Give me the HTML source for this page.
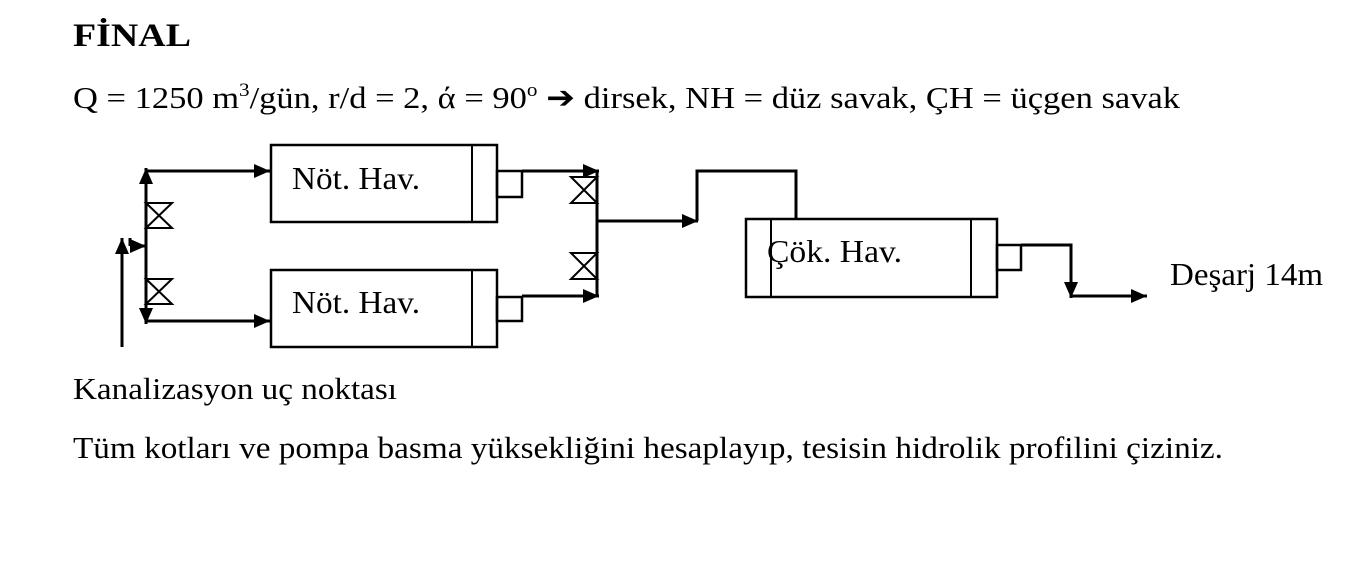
<!DOCTYPE html>
<html><head><meta charset="utf-8"><style>
html,body{margin:0;padding:0;background:#fff;}
svg{display:block;}
text{font-family:"Liberation Serif",serif;fill:#000;}
</style></head><body>
<svg width="1365" height="573" viewBox="0 0 1365 573" xmlns="http://www.w3.org/2000/svg">
<defs>
<marker id="a" markerWidth="16" markerHeight="14" refX="16" refY="7" orient="auto" markerUnits="userSpaceOnUse">
<path d="M0,0 L16,7 L0,14z" fill="#000"/>
</marker>
</defs>
<text x="73" y="46" font-size="33" font-weight="bold" textLength="118" lengthAdjust="spacingAndGlyphs">FİNAL</text>
<text x="73" y="108" font-size="31" textLength="1107" lengthAdjust="spacingAndGlyphs">Q = 1250 m<tspan font-size="19" dy="-12">3</tspan><tspan dy="12">/gün,  r/d = 2,  ά = 90</tspan><tspan font-size="19" dy="-12">o</tspan><tspan dy="12"> ➔ dirsek,  NH = düz savak,  ÇH = üçgen savak</tspan></text>

<g stroke="#000" fill="none" stroke-width="3">
<rect x="271" y="145" width="226" height="77" stroke-width="2.5"/>
<line x1="472" y1="145" x2="472" y2="222" stroke-width="2"/>
<rect x="271" y="270" width="226" height="77" stroke-width="2.5"/>
<line x1="472" y1="270" x2="472" y2="347" stroke-width="2"/>
<rect x="497" y="171" width="25" height="26" stroke-width="2.5"/>
<rect x="497" y="297" width="25" height="24" stroke-width="2.5"/>
<line x1="146" y1="172" x2="146" y2="321"/>
<line x1="146" y1="171" x2="270" y2="171" marker-end="url(#a)"/>
<line x1="146" y1="321" x2="270" y2="321" marker-end="url(#a)"/>
<line x1="122" y1="347" x2="122" y2="238" marker-end="url(#a)"/>
<line x1="130" y1="246" x2="146" y2="246" marker-end="url(#a)"/>
<line x1="130" y1="238" x2="130" y2="246"/>
<line x1="146" y1="200" x2="146" y2="168" marker-end="url(#a)"/>
<line x1="146" y1="300" x2="146" y2="324" marker-end="url(#a)"/>
<line x1="522" y1="171" x2="599" y2="171" marker-end="url(#a)"/>
<line x1="522" y1="296" x2="599" y2="296" marker-end="url(#a)"/>
<line x1="597" y1="171" x2="597" y2="296"/>
<line x1="597" y1="221" x2="698" y2="221" marker-end="url(#a)"/>
<polyline points="697,221 697,171 796,171 796,219"/>
<rect x="746" y="219" width="251" height="78" stroke-width="2.5"/>
<line x1="771" y1="219" x2="771" y2="297" stroke-width="2"/>
<line x1="971" y1="219" x2="971" y2="297" stroke-width="2"/>
<rect x="997" y="245" width="24" height="25" stroke-width="2.5"/>
<polyline points="1021,245 1071,245 1071,280"/>
<line x1="1071" y1="278" x2="1071" y2="298" marker-end="url(#a)"/>
<line x1="1071" y1="296" x2="1147" y2="296" marker-end="url(#a)"/>
</g>
<g stroke="#000" stroke-width="2" fill="none">
<path d="M146,203 L172,228 L146,228 L172,203 Z"/>
<path d="M146,279 L172,304 L146,304 L172,279 Z"/>
<path d="M571,177 L597,203 L571,203 L597,177 Z"/>
<path d="M571,253 L597,279 L571,279 L597,253 Z"/>
</g>
<text x="292" y="189" font-size="32" textLength="128" lengthAdjust="spacingAndGlyphs">Nöt. Hav.</text>
<text x="292" y="313" font-size="32" textLength="128" lengthAdjust="spacingAndGlyphs">Nöt. Hav.</text>
<text x="767" y="262" font-size="32" textLength="135" lengthAdjust="spacingAndGlyphs">Çök. Hav.</text>
<text x="1170" y="285" font-size="32" textLength="153" lengthAdjust="spacingAndGlyphs">Deşarj 14m</text>
<text x="73" y="399" font-size="31" textLength="324" lengthAdjust="spacingAndGlyphs">Kanalizasyon uç noktası</text>
<text x="73" y="458" font-size="31" textLength="1150" lengthAdjust="spacingAndGlyphs">Tüm kotları ve pompa basma yüksekliğini hesaplayıp, tesisin hidrolik profilini çiziniz.</text>
</svg>
</body></html>
